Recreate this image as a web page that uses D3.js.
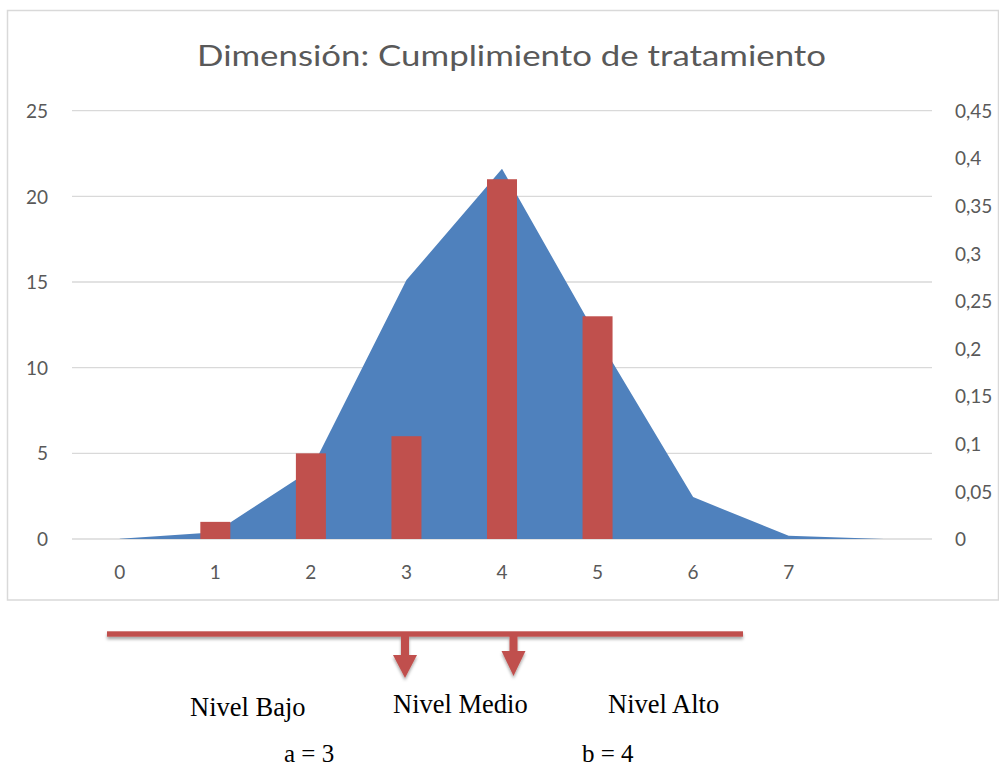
<!DOCTYPE html>
<html>
<head>
<meta charset="utf-8">
<script src="https://cdn.jsdelivr.net/npm/d3@7"></script>
<style>
  html, body { margin: 0; padding: 0; background: #fff; }
  svg { display: block; }
</style>
</head>
<body>
<svg id="chart" width="999" height="770"></svg>
<script>
// Categories along the x axis (the last slot carries no label)
const categories = ["0", "1", "2", "3", "4", "5", "6", "7", ""];
// Frequency of each score (primary axis, bars)
const frequency = [null, 1, 5, 6, 21, 13, null, null, null];
// Normal density curve (secondary axis, area)
const density = [0.0003, 0.0072, 0.0725, 0.272, 0.389, 0.212, 0.044, 0.0033, 0.0001];
// Axis ticks
const leftTicks = [0, 5, 10, 15, 20, 25];
const rightTicks = [0, 0.05, 0.1, 0.15, 0.2, 0.25, 0.3, 0.35, 0.4, 0.45];
// Level labels and cut points shown under the chart
const levels = ["Nivel Bajo", "Nivel Medio", "Nivel Alto"];
const cutLabels = ["a = 3", "b = 4"];

const svg = d3.select("#chart");
const plot = { left: 72, right: 932, top: 110.7, bottom: 539 };
const labelFont = "Lato, 'Open Sans', sans-serif";
const textGrey = "#595959";

// Chart frame
svg.append("rect")
  .attr("x", 7.5).attr("y", 10.5)
  .attr("width", 991).attr("height", 589.5)
  .attr("fill", "#fff")
  .attr("stroke", "#D9D9D9").attr("stroke-width", 1.5);

// Title
svg.append("text")
  .attr("x", 511.5).attr("y", 66)
  .attr("text-anchor", "middle")
  .attr("font-family", labelFont)
  .attr("font-size", 29)
  .attr("fill", textGrey)
  .attr("textLength", 629)
  .attr("lengthAdjust", "spacingAndGlyphs")
  .text("Dimensión: Cumplimiento de tratamiento");

const x = d3.scaleBand().domain(categories.map((c, i) => i))
  .range([plot.left, plot.right]).padding(0);
const yL = d3.scaleLinear().domain([0, 25]).range([plot.bottom, plot.top]);
const yR = d3.scaleLinear().domain([0, 0.45]).range([plot.bottom, plot.top]);
const cx = i => x(i) + x.bandwidth() / 2;

// Horizontal gridlines on the primary axis
svg.append("g").selectAll("line").data(leftTicks).join("line")
  .attr("x1", plot.left).attr("x2", plot.right)
  .attr("y1", d => yL(d)).attr("y2", d => yL(d))
  .attr("stroke", "#D9D9D9").attr("stroke-width", 1.3);

// Density area
const area = d3.area()
  .x((d, i) => cx(i))
  .y0(yR(0))
  .y1(d => yR(d));
svg.append("path")
  .datum(density)
  .attr("d", area)
  .attr("fill", "#4F81BD");

// Frequency bars
const barW = x.bandwidth() * 0.314;
svg.append("g").selectAll("rect")
  .data(frequency.map((v, i) => ({ v, i })).filter(d => d.v !== null))
  .join("rect")
  .attr("x", d => cx(d.i) - barW / 2)
  .attr("width", barW)
  .attr("y", d => yL(d.v))
  .attr("height", d => yL(0) - yL(d.v))
  .attr("fill", "#C0504D");

// Left axis labels
const leftAxis = d3.axisLeft(yL).tickValues(leftTicks).tickSize(0).tickPadding(0);
const gl = svg.append("g").attr("transform", `translate(48,0)`).call(leftAxis);
gl.select(".domain").remove();
gl.selectAll("text").attr("font-family", labelFont).attr("font-size", 19)
  .attr("fill", textGrey).attr("dy", "0.35em");

// Right axis labels (decimal comma)
const fmtComma = d => String(d).replace(".", ",");
const rightAxis = d3.axisRight(yR).tickValues(rightTicks).tickFormat(fmtComma)
  .tickSize(0).tickPadding(0);
const gr = svg.append("g").attr("transform", `translate(955,0)`).call(rightAxis);
gr.select(".domain").remove();
gr.selectAll("text").attr("font-family", labelFont).attr("font-size", 19)
  .attr("fill", textGrey).attr("dy", "0.35em");

// Category axis labels
const bottomAxis = d3.axisBottom(x).tickFormat(i => categories[i]).tickSize(0).tickPadding(0);
const gb = svg.append("g").attr("transform", `translate(0,${plot.bottom + 26})`).call(bottomAxis);
gb.select(".domain").remove();
gb.selectAll("text").attr("font-family", labelFont).attr("font-size", 19)
  .attr("fill", textGrey).attr("dy", "0.71em");

// Level diagram below the chart
const defs = svg.append("defs");
const f = defs.append("filter").attr("id", "shadow")
  .attr("x", "-10%").attr("y", "-100%").attr("width", "120%").attr("height", "300%");
f.append("feDropShadow").attr("dx", 0).attr("dy", 2.5).attr("stdDeviation", 1.6)
  .attr("flood-color", "#000").attr("flood-opacity", 0.35);

const diag = svg.append("g").attr("filter", "url(#shadow)").attr("fill", "#C0504D");
const lineY = 634;
diag.append("rect").attr("x", 107).attr("y", lineY - 2.7).attr("width", 636).attr("height", 5.4);
const arrows = [
  { x: 405, stemEnd: 655, tip: 678 },
  { x: 513.5, stemEnd: 651, tip: 676 }
];
arrows.forEach(a => {
  diag.append("rect").attr("x", a.x - 4).attr("y", lineY).attr("width", 8).attr("height", a.stemEnd - lineY);
  diag.append("path").attr("d",
    `M${a.x - 12},${a.stemEnd} L${a.x + 12},${a.stemEnd} L${a.x},${a.tip} Z`);
});

const serif = "'Liberation Serif', 'Times New Roman', serif";
const levelPos = [{ x: 190, y: 716 }, { x: 393, y: 713 }, { x: 608, y: 713 }];
svg.append("g").selectAll("text").data(levels).join("text")
  .attr("x", (d, i) => levelPos[i].x).attr("y", (d, i) => levelPos[i].y)
  .attr("font-family", serif).attr("font-size", 26.5).attr("fill", "#000")
  .text(d => d);
const cutPos = [{ x: 284, y: 762 }, { x: 582, y: 762 }];
svg.append("g").selectAll("text").data(cutLabels).join("text")
  .attr("x", (d, i) => cutPos[i].x).attr("y", (d, i) => cutPos[i].y)
  .attr("font-family", serif).attr("font-size", 25).attr("fill", "#000")
  .text(d => d);
</script>
</body>
</html>
